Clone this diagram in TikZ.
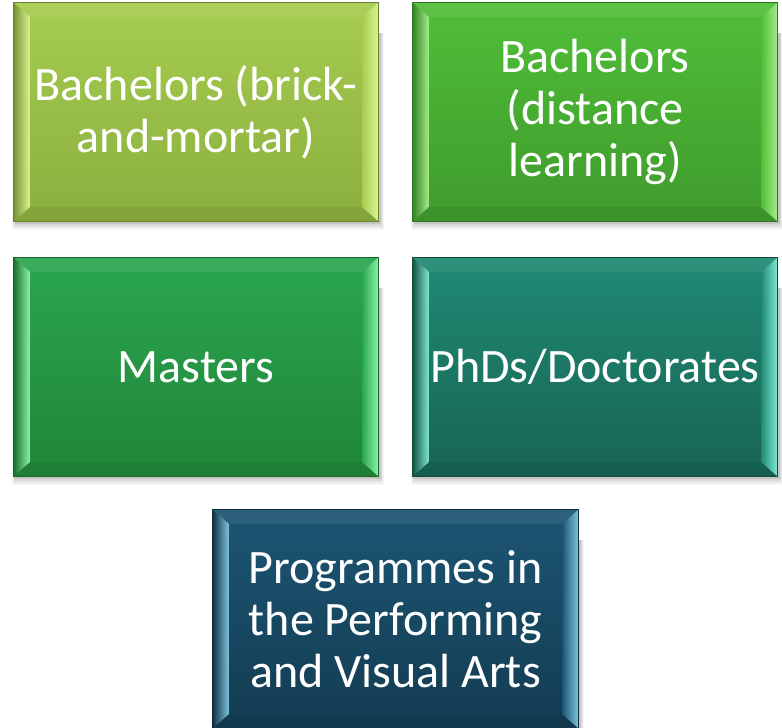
\documentclass[tikz,border=0pt]{standalone}
\usepackage{fontspec}
\setmainfont{Carlito}
\usetikzlibrary{calc}
\pgfdeclarelayer{bg}
\pgfsetlayers{bg,main}
\definecolor{aT}{HTML}{A6CC50}\definecolor{aB}{HTML}{8BAF3E}\definecolor{aL}{HTML}{DDF294}
\definecolor{bT}{HTML}{50BE38}\definecolor{bB}{HTML}{3F9B2D}\definecolor{bL}{HTML}{A4EC8A}
\definecolor{cT}{HTML}{2AA650}\definecolor{cB}{HTML}{208538}\definecolor{cL}{HTML}{8CF2AA}
\definecolor{dT}{HTML}{1F8A74}\definecolor{dB}{HTML}{186453}\definecolor{dL}{HTML}{80E8D2}
\definecolor{eT}{HTML}{1C5573}\definecolor{eB}{HTML}{133C52}\definecolor{eL}{HTML}{80C2DE}
\tikzset{
  bevbox/.style={minimum width=364pt, minimum height=218pt, inner sep=0pt, align=center,
    text=white, font=\fontsize{48}{52}\selectfont}
}
\newcommand\bevdraw[4]{%
\begin{pgfonlayer}{bg}
  \foreach \s/\o in {7/0.04,5/0.05,3/0.07,1/0.09}
    \fill[black,opacity=\o] ($(#1.south west)+(2-\s/2,-2-\s)$) rectangle ($(#1.north east)+(2+\s/2,-30)$);
  \shade[top color=#2, bottom color=#3] (#1.south west) rectangle (#1.north east);
  \shade[left color=#3!85!black, right color=#4] (#1.south west) -- (#1.north west) -- ($(#1.north west)+(16,-14)$) -- ($(#1.south west)+(16,14)$) -- cycle;
  \shade[left color=#2, right color=#4] (#1.south east) -- (#1.north east) -- ($(#1.north east)+(-16,-14)$) -- ($(#1.south east)+(-16,14)$) -- cycle;
  \fill[white,opacity=0.07] (#1.north west) -- (#1.north east) -- ($(#1.north east)+(-16,-14)$) -- ($(#1.north west)+(16,-14)$) -- cycle;
  \fill[black,opacity=0.06] (#1.south west) -- (#1.south east) -- ($(#1.south east)+(-16,14)$) -- ($(#1.south west)+(16,14)$) -- cycle;
  \draw[#3!75!black, line width=1pt] (#1.south west) rectangle (#1.north east);
\end{pgfonlayer}}
\begin{document}
\begin{tikzpicture}[x=1pt,y=1pt]
\useasboundingbox (0,0) rectangle (782,728);
\node[bevbox] (ba) at (196,616) {Bachelors (brick-\\and-mortar)};
\node[bevbox] (bd) at (595,616) {Bachelors\\(distance\\learning)};
\node[bevbox] (ma) at (196,361) {Masters};
\node[bevbox] (ph) at (595,361) {PhDs/Doctorates};
\node[bevbox, minimum width=365pt] (pa) at (395.5,109) {Programmes in\\the Performing\\and Visual Arts};
\bevdraw{ba}{aT}{aB}{aL}
\bevdraw{bd}{bT}{bB}{bL}
\bevdraw{ma}{cT}{cB}{cL}
\bevdraw{ph}{dT}{dB}{dL}
\bevdraw{pa}{eT}{eB}{eL}
\end{tikzpicture}
\end{document}
